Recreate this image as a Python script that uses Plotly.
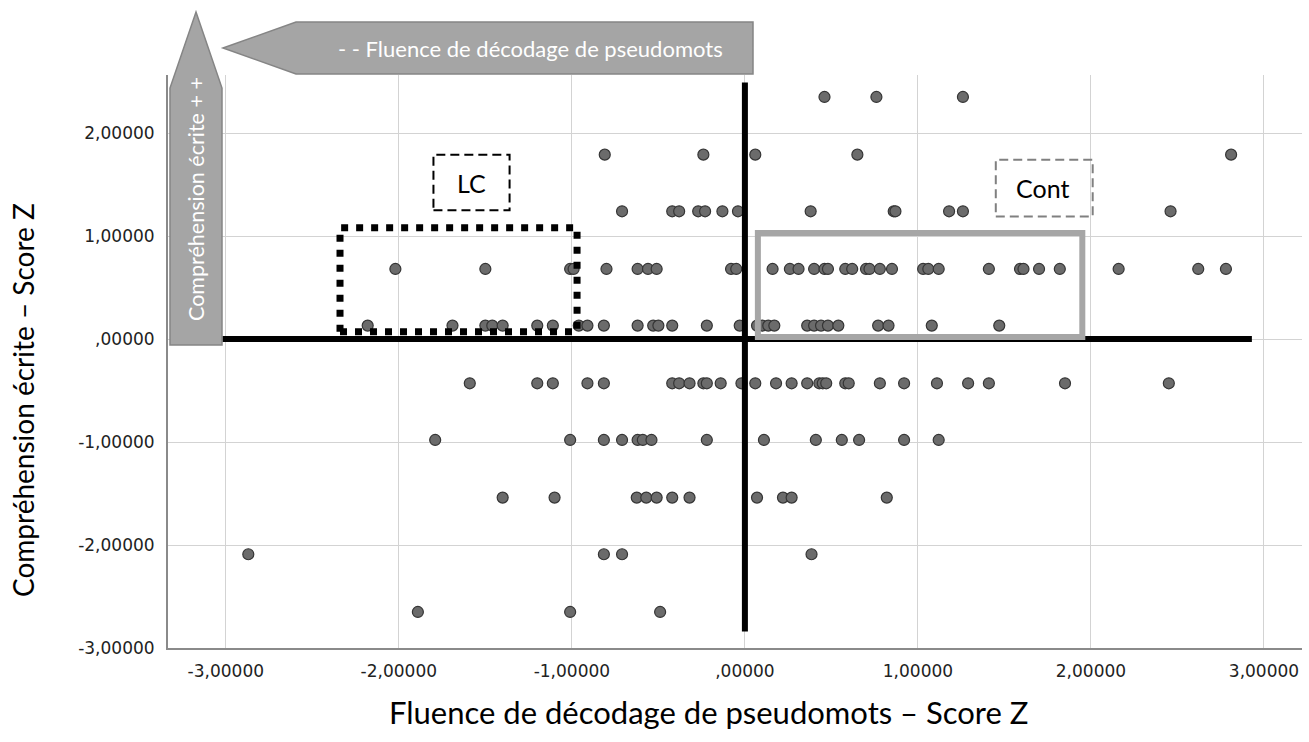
import plotly.graph_objects as go

# Score levels of reading comprehension (one row of points per level)
y_levels = [2.35, 1.79, 1.24, 0.68, 0.13, -0.43, -0.98, -1.54, -2.09, -2.65]

# Pseudoword decoding fluence z-scores for each comprehension level
x_row_2_35 = [0.46, 0.76, 1.26]
x_row_1_79 = [-0.81, -0.24, 0.06, 0.65, 2.81]
x_row_1_24 = [-0.71, -0.42, -0.38, -0.27, -0.23, -0.13, -0.04, 0.38, 0.86, 0.87,
              1.18, 1.26, 2.46]
x_row_0_68 = [-2.02, -1.50, -1.01, -0.99, -0.80, -0.62, -0.56, -0.51, -0.08, -0.05,
              0.16, 0.26, 0.31, 0.40, 0.46, 0.48, 0.58, 0.62, 0.70, 0.72, 0.78, 0.85,
              1.03, 1.06, 1.12, 1.41, 1.59, 1.61, 1.70, 1.82, 2.16, 2.62, 2.78]
x_row_0_13 = [-2.18, -1.69, -1.50, -1.46, -1.40, -1.20, -1.11, -0.96, -0.91, -0.815,
              -0.62, -0.53, -0.50, -0.42, -0.22, -0.03, 0.07, 0.10, 0.135, 0.17,
              0.36, 0.40, 0.44, 0.48, 0.54, 0.77, 0.83, 1.08, 1.47]
x_row_m0_43 = [-1.59, -1.20, -1.11, -0.91, -0.815, -0.42, -0.38, -0.32, -0.24, -0.22,
               -0.14, -0.02, 0.06, 0.18, 0.27, 0.36, 0.43, 0.45, 0.47, 0.58, 0.60,
               0.78, 0.92, 1.11, 1.29, 1.41, 1.85, 2.45]
x_row_m0_98 = [-1.79, -1.01, -0.815, -0.71, -0.62, -0.59, -0.54, -0.22, 0.11, 0.41,
               0.56, 0.66, 0.92, 1.12]
x_row_m1_54 = [-1.40, -1.10, -0.625, -0.57, -0.51, -0.42, -0.32, 0.07, 0.22, 0.27, 0.82]
x_row_m2_09 = [-2.87, -0.815, -0.71, 0.385]
x_row_m2_65 = [-1.89, -1.01, -0.49]

x_rows = [x_row_2_35, x_row_1_79, x_row_1_24, x_row_0_68, x_row_0_13,
          x_row_m0_43, x_row_m0_98, x_row_m1_54, x_row_m2_09, x_row_m2_65]

x_ticks = [-3, -2, -1, 0, 1, 2, 3]
x_tick_labels = ["-3,00000", "-2,00000", "-1,00000", ",00000", "1,00000", "2,00000", "3,00000"]
y_ticks = [-3, -2, -1, 0, 1, 2]
y_tick_labels = ["-3,00000", "-2,00000", "-1,00000", ",00000", "1,00000", "2,00000"]

xs, ys = [], []
for lvl, row in zip(y_levels, x_rows):
    xs.extend(row)
    ys.extend([lvl] * len(row))

# Plot area in page pixels
W, H = 1309, 742
L, R, T, B = 168, 1302, 75, 648


def px(xp):
    return (xp - L) / (R - L)


def py(yp):
    return (B - yp) / (B - T)


TITLE_FONT = "Lato, 'Open Sans', sans-serif"
ARROW_GRAY = "#a5a5a5"
ARROW_EDGE = "#858585"

fig = go.Figure()
fig.add_trace(go.Scatter(
    x=xs, y=ys, mode="markers",
    marker=dict(size=11, color="#6b6b6b", line=dict(color="#353535", width=1.2)),
    showlegend=False, hoverinfo="x+y",
))

shapes = []

# Quadrant axes through the origin
shapes.append(dict(type="line", xref="x", yref="y", x0=-3.02, x1=2.93, y0=0, y1=0,
                   line=dict(color="black", width=6), layer="above"))
shapes.append(dict(type="line", xref="x", yref="y", x0=0, x1=0, y0=-2.84, y1=2.49,
                   line=dict(color="black", width=6), layer="above"))

# Group frames
shapes.append(dict(type="rect", xref="x", yref="y", x0=-2.34, x1=-0.97, y0=0.07, y1=1.08,
                   line=dict(color="black", width=7, dash="7px,8px"), layer="above"))
shapes.append(dict(type="rect", xref="x", yref="y", x0=0.075, x1=1.95, y0=0.02, y1=1.03,
                   line=dict(color="#a6a6a6", width=6), layer="above"))
shapes.append(dict(type="rect", xref="x", yref="y", x0=-1.80, x1=-1.36, y0=1.25, y1=1.79,
                   line=dict(color="black", width=2, dash="9px,5px"), layer="above"))
shapes.append(dict(type="rect", xref="x", yref="y", x0=1.45, x1=2.01, y0=1.19, y1=1.74,
                   line=dict(color="#808080", width=2, dash="9px,5px"), layer="above"))

# Direction arrows outside the plot area
left_arrow = [(223, 48), (296, 22), (753, 22), (753, 74), (296, 74)]
up_arrow = [(196, 12), (222, 88), (222, 345), (170, 345), (170, 88)]


def poly_path(pts):
    return "M " + " L ".join(f"{px(a):.5f},{py(b):.5f}" for a, b in pts) + " Z"


for pts in (left_arrow, up_arrow):
    shapes.append(dict(type="path", xref="paper", yref="paper", path=poly_path(pts),
                       fillcolor=ARROW_GRAY, line=dict(color=ARROW_EDGE, width=1.5),
                       layer="above"))


def label(text, x, y, size, color="black", ref="paper", angle=0):
    return dict(text=text, x=x, y=y, xref="x" if ref == "data" else "paper",
                yref="y" if ref == "data" else "paper", showarrow=False,
                xanchor="center", yanchor="middle", textangle=angle,
                font=dict(family=TITLE_FONT, size=size, color=color))


annotations = [
    label("LC", -1.58, 1.51, 25, ref="data"),
    label("Cont", 1.72, 1.47, 25, ref="data"),
    label("- - Fluence de décodage de pseudomots", px(530), py(48), 22, color="white"),
    label("Compréhension écrite + +", px(196), py(199), 21.5, color="white", angle=-90),
    label("Fluence de décodage de pseudomots – Score Z", px(708), py(712), 31),
    label("Compréhension écrite – Score Z", px(23), py(400), 28, angle=-90),
]

x_lo = (L - 744.9) / 173.03
x_hi = (R - 744.9) / 173.03
y_lo = (339 - B) / 103.0
y_hi = (339 - T) / 103.0

fig.update_layout(
    width=W, height=H,
    margin=dict(l=L, r=W - R, t=T, b=H - B),
    paper_bgcolor="white", plot_bgcolor="white",
    shapes=shapes, annotations=annotations,
    font=dict(family="DejaVu Sans", size=17, color="#222222"),
    xaxis=dict(range=[x_lo, x_hi], tickvals=x_ticks, ticktext=x_tick_labels,
               showgrid=True, gridcolor="#d3d3d3", gridwidth=1,
               zeroline=False, showline=True, linecolor="#8a8a8a", linewidth=2,
               ticks="", ticklen=0, ticklabelstandoff=7, fixedrange=True),
    yaxis=dict(range=[y_lo, y_hi], tickvals=y_ticks, ticktext=y_tick_labels,
               showgrid=True, gridcolor="#d3d3d3", gridwidth=1,
               zeroline=False, showline=True, linecolor="#8a8a8a", linewidth=2,
               ticks="", ticklen=0, ticklabelstandoff=8, fixedrange=True),
)

fig.write_html("out.html")
